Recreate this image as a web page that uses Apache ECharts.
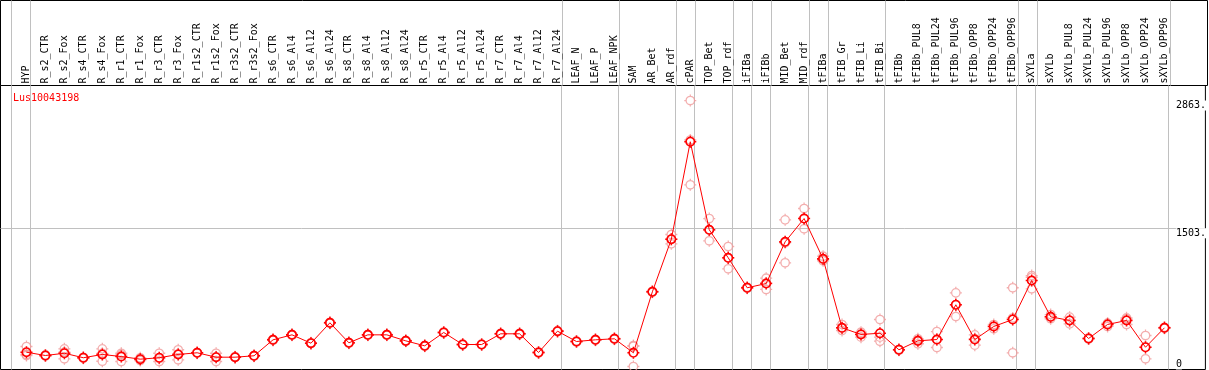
<!DOCTYPE html>
<html>
<head>
<meta charset="utf-8">
<script src="https://cdn.jsdelivr.net/npm/echarts@6/dist/echarts.min.js"></script>
<style>
html,body{margin:0;padding:0;background:#fff;}
#chart{width:1209px;height:370px;}
</style>
</head>
<body>
<div id="chart"></div>
<script>
const categories = ["HYP","R_s2_CTR","R_s2_Fox","R_s4_CTR","R_s4_Fox","R_r1_CTR","R_r1_Fox","R_r3_CTR","R_r3_Fox","R_r1s2_CTR","R_r1s2_Fox","R_r3s2_CTR","R_r3s2_Fox","R_s6_CTR","R_s6_Al4","R_s6_Al12","R_s6_Al24","R_s8_CTR","R_s8_Al4","R_s8_Al12","R_s8_Al24","R_r5_CTR","R_r5_Al4","R_r5_Al12","R_r5_Al24","R_r7_CTR","R_r7_Al4","R_r7_Al12","R_r7_Al24","LEAF_N","LEAF_P","LEAF_NPK","SAM","AR_Bet","AR_rdf","cPAR","TOP_Bet","TOP_rdf","iFIBa","iFIBb","MID_Bet","MID_rdf","tFIBa","tFIB_Gr","tFIB_Li","tFIB_Bi","tFIBb","tFIBb_PUL8","tFIBb_PUL24","tFIBb_PUL96","tFIBb_OPP8","tFIBb_OPP24","tFIBb_OPP96","sXYLa","sXYLb","sXYLb_PUL8","sXYLb_PUL24","sXYLb_PUL96","sXYLb_OPP8","sXYLb_OPP24","sXYLb_OPP96"];

const meanValues = [184,149,173,125,160,138,110,125,160,178,131,131,146,316,369,280,497,284,369,369,305,252,394,266,266,380,380,181,408,298,316,327,178,827,1387,2424,1487,1189,870,915,1359,1607,1178,444,373,386,210,305,319,689,319,458,532,947,561,522,330,479,522,237,444];

const rep1 = [245,155,220,130,220,173,125,173,210,182,173,136,150,322,374,285,503,289,373,374,310,257,399,271,270,385,385,186,413,303,321,332,255,833,1437,2863,1607,1309,876,972,1593,1714,1206,479,397,532,215,327,404,816,369,479,870,1000,585,557,335,493,550,362,449];
const rep2 = [160,149,185,125,172,156,110,117,167,178,135,131,146,316,369,280,497,284,369,369,305,252,394,266,266,380,380,181,408,298,316,327,247,827,1387,2443,1484,1186,870,921,1348,1609,1171,438,378,344,210,314,319,687,329,462,548,982,558,523,330,486,537,235,444];
const rep3 = [149,143,114,120,88,85,96,85,103,174,85,126,142,310,364,275,491,279,365,364,300,247,389,261,262,375,375,176,403,293,311,322,32,821,1338,1966,1370,1072,864,852,1136,1498,1157,415,344,301,205,274,234,564,259,433,178,859,540,486,325,458,479,114,439];

// index of the last category in each group (-1 = before the first)
const groupEnds = [-1,0,28,31,34,35,37,38,39,41,42,45,52,53,60];
const yLabelValues = [0,1503,2863];
const yGridValues = [1503];
const geneName = "Lus10043198";

const FONT = "DejaVu Sans Mono";
const catIdx = categories.map((c,i)=>i);
const sepOffset = 4/19;
const separators = groupEnds.map(e => e + sepOffset);
const xMin = (0.5-26.5)/19, xMax = (1207.5-26.5)/19;

const marker = 'path://M3,10C3,6.13 6.13,3 10,3C13.87,3 17,6.13 17,10C17,13.87 13.87,17 10,17C6.13,17 3,13.87 3,10Z M10,0L10,3 M10,17L10,20 M0,10L3,10 M17,10L20,10';

const repData = [];
[rep1,rep2,rep3].forEach(r => r.forEach((v,i)=>repData.push([i,v])));

const chart = echarts.init(document.getElementById('chart'), null, {renderer:'canvas'});
chart.setOption({
  animation:false,
  backgroundColor:'#fff',
  title:{text:geneName,left:8,top:88,textStyle:{fontFamily:FONT,fontSize:10,color:'#ff0000',fontWeight:'normal'}},
  grid:[
    {left:0.5,right:1.5,top:85.5,bottom:0.5,show:true,borderColor:'#000',borderWidth:1,backgroundColor:'transparent'},
    {left:0.5,right:1.5,top:0.5,height:85,show:true,borderColor:'#000',borderWidth:1,backgroundColor:'transparent'}
  ],
  xAxis:[
    {type:'value',gridIndex:0,position:'top',min:xMin,max:xMax,
     axisLine:{show:false},
     axisTick:{show:false,customValues:separators},
     splitLine:{show:true,lineStyle:{color:'#c0c0c0',width:1}},
     axisLabel:{show:true,customValues:catIdx,rotate:90,margin:2,fontFamily:FONT,fontSize:10,color:'#000',
       formatter:v=>categories[Math.round(v)]}
    },
    {type:'value',gridIndex:1,min:xMin,max:xMax,
     axisLine:{show:false},
     axisTick:{show:false,customValues:separators},
     splitLine:{show:true,lineStyle:{color:'#c0c0c0',width:1}},
     axisLabel:{show:false}
    }
  ],
  yAxis:[
    {type:'value',gridIndex:0,position:'right',min:0,max:3023,
     axisLine:{show:false},
     axisTick:{show:false,customValues:yGridValues},
     splitLine:{show:true,lineStyle:{color:'#c0c0c0',width:1}},
     axisLabel:{inside:true,margin:29.5,align:'left',customValues:yLabelValues,fontFamily:FONT,fontSize:10,color:'#000',
       verticalAlign:'top',verticalAlignMinLabel:'bottom',backgroundColor:'#fff',
       formatter:v=> v===0 ? '0' : v+'.'}
    },
    {type:'value',gridIndex:1,min:0,max:1,show:false}
  ],
  series:[
    {type:'scatter',xAxisIndex:0,yAxisIndex:0,data:repData,symbol:marker,symbolSize:12,symbolKeepAspect:true,
     itemStyle:{color:'transparent',borderColor:'#f09a9a',borderWidth:1.3},z:2,silent:true},
    {type:'line',xAxisIndex:0,yAxisIndex:0,data:meanValues.map((v,i)=>[i,v]),symbol:marker,symbolSize:12,symbolKeepAspect:true,
     showAllSymbol:true,
     lineStyle:{color:'#ff0000',width:1},
     itemStyle:{color:'transparent',borderColor:'#ff0000',borderWidth:1.6},z:3,silent:true}
  ]
});
</script>
</body>
</html>
